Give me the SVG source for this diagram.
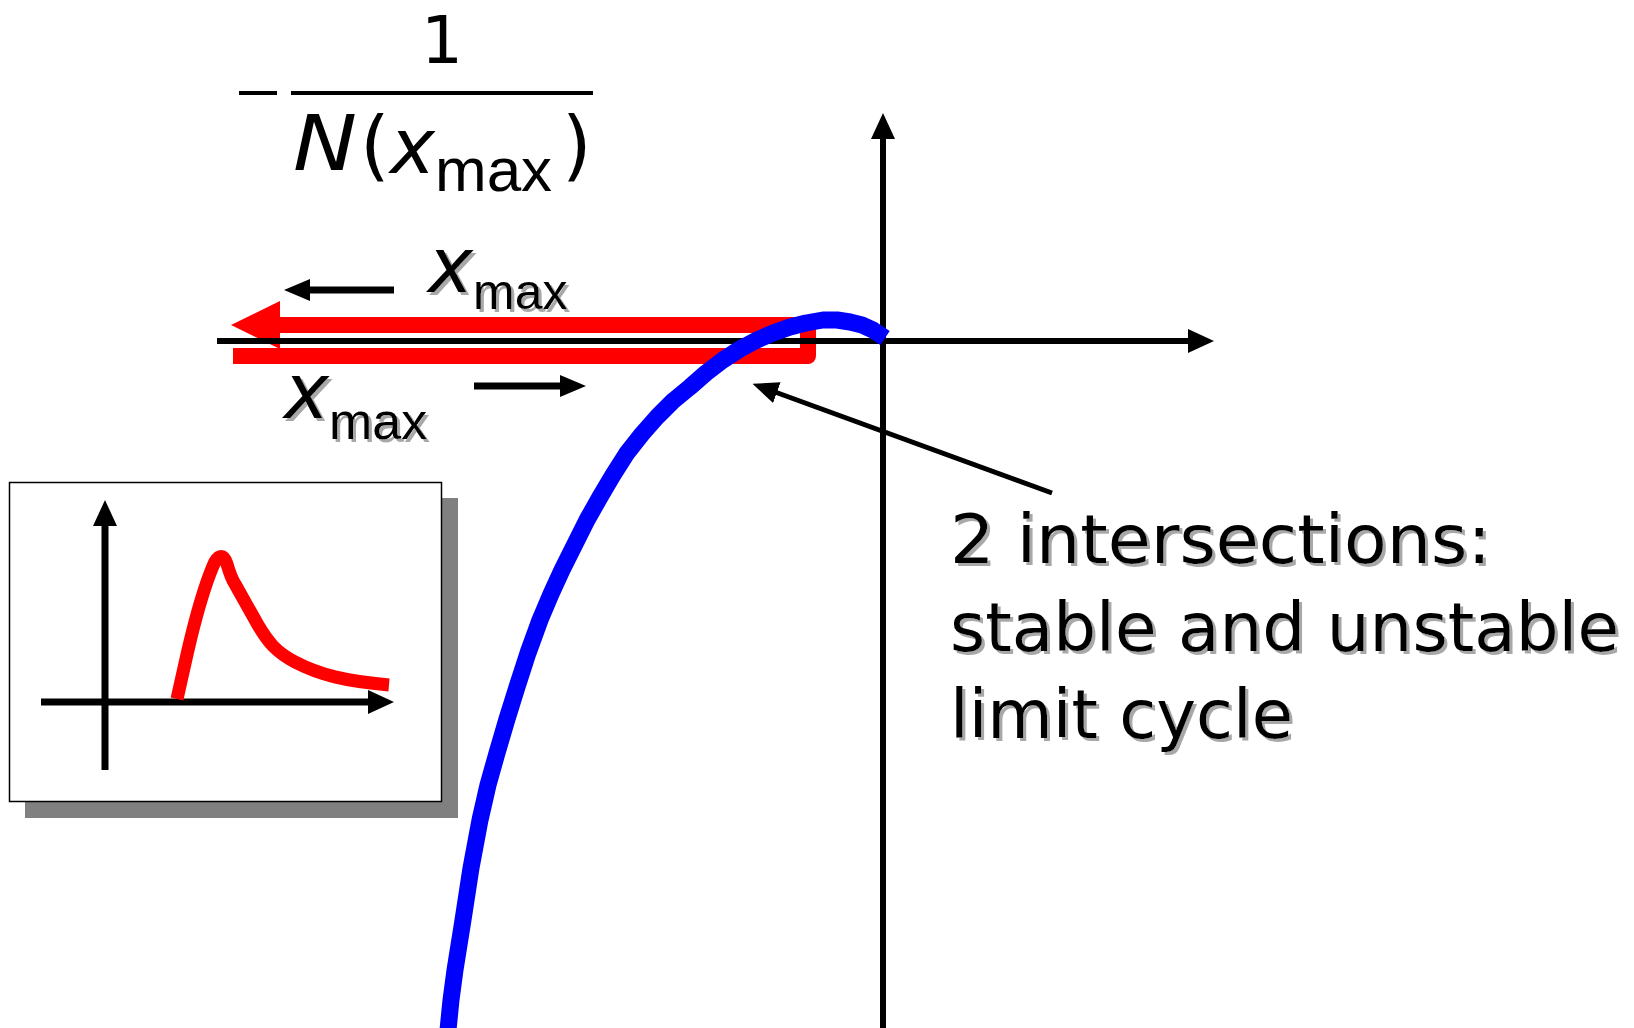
<svg xmlns="http://www.w3.org/2000/svg" width="1634" height="1028" viewBox="0 0 1634 1028">
<style>
.t{font-family:"DejaVu Sans",sans-serif;fill:#000}
.it{font-style:italic}
.sub{font-family:"Liberation Sans",sans-serif;font-style:normal}
.ax{stroke:#000;fill:none}
.sh{filter:url(#ds)}
</style>
<defs>
<marker id="ah" markerUnits="userSpaceOnUse" markerWidth="26" markerHeight="24" viewBox="0 0 26 24" refX="2" refY="12" orient="auto">
<path d="M0,0 L26,12 L0,24 z" fill="#000"/>
</marker>
<marker id="ahs" markerUnits="userSpaceOnUse" markerWidth="26" markerHeight="22" viewBox="0 0 26 22" refX="2" refY="11" orient="auto">
<path d="M0,0 L26,11 L0,22 z" fill="#000"/>
</marker>
<filter id="ds" x="-5%" y="-10%" width="110%" height="130%">
<feDropShadow dx="3" dy="3" stdDeviation="0.6" flood-color="#a8a8a8" flood-opacity="1"/>
</filter>
</defs>
<rect width="1634" height="1028" fill="#fff"/>

<g id="inset">
<rect x="25" y="498" width="433" height="320" fill="#808080"/>
<rect x="9.5" y="482.5" width="432" height="319" fill="#fff" stroke="#000" stroke-width="1.5"/>
<line class="ax" x1="105" y1="770" x2="105" y2="524" stroke-width="7" marker-end="url(#ah)"/>
<line class="ax" x1="41" y1="702" x2="370" y2="702" stroke-width="7" marker-end="url(#ah)"/>
<path d="M177,699 L188,650 C195,620 205,585 213,566 C217,556 223,552 227,564 C229,571 231,578 235,584 L258,625 C268,642 276,652 295,662 C320,675 345,681 389,685" fill="none" stroke="#f00" stroke-width="13" stroke-linejoin="round"/>
</g>

<g id="red-arrow">
<path d="M280,325 H808 V356 H233" fill="none" stroke="#f00" stroke-width="16" stroke-linejoin="round"/>
<path d="M231,325 L280,301 L280,349 z" fill="#f00"/>
</g>

<g id="connectors">
<line class="ax" x1="217" y1="341" x2="1190" y2="341" stroke-width="6" marker-end="url(#ah)"/>
<line class="ax" x1="883" y1="1028" x2="883" y2="137" stroke-width="6" marker-end="url(#ah)"/>
<line class="ax" x1="394" y1="290" x2="308" y2="290" stroke-width="7" marker-end="url(#ahs)"/>
<line class="ax" x1="474" y1="386" x2="562" y2="386" stroke-width="7" marker-end="url(#ahs)"/>
<line class="ax" x1="1052" y1="493" x2="775" y2="392" stroke-width="5" marker-end="url(#ahs)"/>
</g>

<g id="nyquist-curve">
<path d="M448,1030 L451,1000 L455,970 L463,920 L471,868 L480,820 L488,785 L497,753 L507,719 L517,687 L528,653 L540,620 L551,594 L562,570 L575,544 L587,520 L600,497 L613,475 L627,453 L642,434 L657,417 L673,401 L690,387 L706,373 L723,360 L740,349 L757,340 L773,333 L790,327 L806,323 L823,320 L837,320 L850,322 L862,325 L873,330 L885,338" fill="none" stroke="#00f" stroke-width="17" stroke-linejoin="round"/>
</g>

<g id="formula">
<text class="t" x="442" y="63" font-size="66" text-anchor="middle">1</text>
<line x1="239" y1="93" x2="277" y2="93" stroke="#000" stroke-width="4"/>
<line x1="291" y1="93" x2="593" y2="93" stroke="#000" stroke-width="4"/>
<text class="t it" x="293" y="170" font-size="76" textLength="64" lengthAdjust="spacingAndGlyphs">N</text>
<text class="t" x="360" y="171" font-size="76">(</text>
<text class="t it" x="390" y="173" font-size="76">x<tspan class="sub" dy="18" font-size="62">max</tspan></text>
<text class="t" x="562" y="171" font-size="76">)</text>
</g>

<g id="label-upper" class="sh">
<text class="t it" x="428" y="292" font-size="76">x<tspan class="sub" dy="17" font-size="50">max</tspan></text>
</g>

<g id="label-lower" class="sh">
<text class="t it" x="284" y="418" font-size="76">x<tspan class="sub" dy="21" font-size="52">max</tspan></text>
</g>

<g id="caption" class="sh">
<text class="t" x="950" y="563" font-size="67" textLength="541" lengthAdjust="spacingAndGlyphs">2 intersections:</text>
<text class="t" x="950" y="651" font-size="67" textLength="669" lengthAdjust="spacingAndGlyphs">stable and unstable</text>
<text class="t" x="950" y="738" font-size="67" textLength="343" lengthAdjust="spacingAndGlyphs">limit cycle</text>
</g>
</svg>
